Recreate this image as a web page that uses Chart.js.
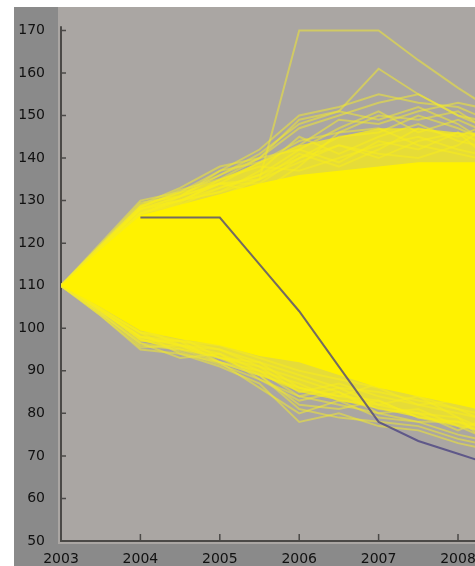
<!DOCTYPE html>
<html>
<head>
<meta charset="utf-8">
<script src="https://cdn.jsdelivr.net/npm/chart.js@4.4.1/dist/chart.umd.min.js"></script>
<style>
  html, body { margin: 0; padding: 0; background: #fff; }
  #wrap { position: relative; width: 475px; height: 566px; }
</style>
</head>
<body>
<div id="wrap"><canvas id="chart"></canvas></div>
<script>
// sample points along the time axis (years)
const years = [2003, 2003.5, 2004, 2004.5, 2005, 2005.5, 2006, 2006.5, 2007, 2007.5, 2008, 2008.25];
const xTicks = [2003, 2004, 2005, 2006, 2007, 2008];
const yTicks = [50, 60, 70, 80, 90, 100, 110, 120, 130, 140, 150, 160, 170];

// solid core of the simulation fan
const coreUpper = [110, 118.5, 126.5, 129, 131.5, 134, 136, 137, 138, 139, 139, 139];
const coreLower = [110, 105, 99.5, 97.5, 96, 93.5, 92, 89, 86, 84, 82, 81];
// denser band around the core
const denseUpper = [110, 119.5, 129, 132, 135, 139, 143, 145, 147, 147, 146, 146];
const denseLower = [110, 104, 97, 95, 93, 89, 85, 83, 81, 79, 77, 76];

// individual paths visible at the upper edge
const upperPaths = [
  [110, 120, 130, 132, 137, 142, 150, 152, 155, 153, 152, 150],
  [110, 119.5, 129, 133, 138, 140, 147, 150, 153, 155, 150, 149],
  [110, 119, 128, 130, 134, 139, 143, 149, 148, 151, 153, 152],
  [110, 118.5, 127, 129, 133, 136, 140, 145, 146, 150, 147, 145],
  [110, 119, 128.5, 132.5, 135, 140, 142, 147, 151, 146, 149, 147],
  [110, 118.5, 127.5, 130, 132, 137, 145, 141, 145, 148, 144, 143],
  [110, 118, 126.5, 128, 131, 135, 139, 143, 140, 144, 146, 142],
  [110, 119.5, 129.5, 131, 134, 132, 138, 146, 147, 143, 141, 140],
  [110, 118.5, 127, 129.5, 135, 138, 137, 140, 143, 145, 142, 141],
  [110, 119, 128, 130, 133, 136, 142, 139, 144, 142, 146, 144],
  [110, 118.5, 126.5, 131, 134, 134, 140, 143, 141, 140, 143, 146],
  [110, 119.5, 128.5, 132, 136, 141, 148, 151, 149, 152, 148, 145],
  [110, 119, 128, 131, 137, 139, 144, 146, 150, 149, 151, 148],
  [110, 118.5, 127, 130, 132, 135, 141, 138, 142, 147, 145, 147]
];
// the two high outliers
const outlierPaths = [
  [110, 118.5, 127, 130, 134, 135, 170, 170, 170, 163, 156.5, 153.5],
  [110, 119, 128, 131, 136, 140, 149, 151, 161, 155, 150, 148]
];
// individual paths visible at the lower edge
const lowerPaths = [
  [110, 103, 95, 94, 91, 87, 78, 80, 77, 76, 73, 72],
  [110, 103.5, 96.5, 95, 92, 86, 80, 83, 79, 78, 75, 74],
  [110, 104, 98, 96, 94, 90, 84, 82, 80, 81, 77, 76],
  [110, 104.5, 99, 94, 92, 89, 86, 84, 83, 79, 78, 77],
  [110, 104, 97, 97, 95, 91, 88, 85, 81, 80, 76, 78],
  [110, 104.5, 99, 98, 93, 91, 85, 87, 84, 82, 80, 79],
  [110, 103.5, 96, 95, 93, 89, 82, 81, 83, 79, 77, 75],
  [110, 105, 100, 96, 95, 92, 89, 86, 85, 83, 81, 80],
  [110, 104, 98, 97, 92, 90, 87, 83, 82, 84, 79, 77],
  [110, 104.5, 99, 97, 96, 93, 90, 88, 86, 82, 83, 81],
  [110, 103.5, 96.5, 93, 94, 88, 83, 85, 80, 78, 78, 76],
  [110, 104.5, 98, 96, 93, 92, 86, 84, 87, 84, 81, 79],
  [110, 103, 95.5, 96, 92, 89, 81, 79, 78, 77, 74, 73],
  [110, 104, 97.5, 94.5, 91.5, 88, 84, 86, 82, 80, 79, 75]
];
// the highlighted (historical) path
const actualPath = [110, 118, 126, 126, 126, 115, 104, 91, 78, 73.5, 70.5, 69];

const toPoints = vals => vals.map((v, i) => ({ x: years[i], y: v }));

const datasets = [];
// blue path on top
datasets.push({
  data: toPoints(actualPath), borderColor: 'rgba(70,62,128,0.75)', borderWidth: 2, order: 0,
  // first year is buried under the yellow fan
  segment: { borderColor: c => c.p1.parsed.x <= 2004 ? 'rgba(0,0,0,0)' : undefined }
});
// solid core
datasets.push({ data: toPoints(coreLower), borderWidth: 0, order: 2, fill: false });
datasets.push({ data: toPoints(coreUpper), borderWidth: 0, order: 2, fill: '-1', backgroundColor: '#fff200' });
// dense band
datasets.push({ data: toPoints(denseLower), borderWidth: 0, order: 3, fill: false });
datasets.push({ data: toPoints(denseUpper), borderWidth: 0, order: 3, fill: '-1', backgroundColor: 'rgba(250,238,20,0.75)' });
// single paths
[...upperPaths, ...outlierPaths, ...lowerPaths].forEach(p => {
  datasets.push({ data: toPoints(p), borderColor: 'rgba(240,232,50,0.55)', borderWidth: 2, order: 4 });
});

const panelPlugin = {
  id: 'panel',
  beforeDraw(chart) {
    const { ctx, chartArea: a } = chart;
    ctx.save();
    ctx.fillStyle = '#ffffff';
    ctx.fillRect(0, 0, chart.width, chart.height);
    ctx.fillStyle = '#8a8a8a';
    ctx.fillRect(14, a.top, chart.width - 14, chart.height - a.top);
    ctx.fillStyle = '#aaa6a3';
    ctx.fillRect(a.left - 3, a.top, chart.width - a.left + 3, a.bottom - a.top + 3);
    ctx.restore();
  },
  beforeDatasetsDraw(chart) {
    const { ctx, chartArea: a } = chart;
    const xs = chart.scales.x, ys = chart.scales.y;
    const x0 = xs.getPixelForValue(2003);
    const yb = ys.getPixelForValue(50);
    ctx.save();
    ctx.strokeStyle = '#4b4947';
    ctx.lineWidth = 2;
    ctx.beginPath();
    ctx.moveTo(x0, ys.getPixelForValue(171));
    ctx.lineTo(x0, yb);
    ctx.lineTo(a.right, yb);
    ctx.stroke();
    ctx.lineWidth = 1.5;
    ctx.beginPath();
    yTicks.forEach(v => {
      const py = ys.getPixelForValue(v);
      ctx.moveTo(x0, py);
      ctx.lineTo(x0 + 5, py);
    });
    xTicks.forEach(v => {
      const px = xs.getPixelForValue(v);
      ctx.moveTo(px, yb);
      ctx.lineTo(px, yb - 7);
    });
    ctx.stroke();
    ctx.restore();
  }
};

new Chart(document.getElementById('chart').getContext('2d'), {
  type: 'line',
  data: { datasets },
  options: {
    responsive: true,
    maintainAspectRatio: false,
    animation: false,
    layout: { padding: { top: 7, right: 0, left: 0, bottom: 0 } },
    elements: { point: { radius: 0 }, line: { tension: 0 } },
    plugins: { legend: { display: false }, tooltip: { enabled: false } },
    scales: {
      x: {
        type: 'linear',
        min: 2003,
        max: 2008.214,
        grid: { display: false },
        border: { display: false },
        afterBuildTicks: s => { s.ticks = xTicks.map(v => ({ value: v })); },
        afterFit: s => { s.height = 25; s.paddingLeft = 0; s.paddingRight = 0; },
        ticks: {
          padding: 2,
          color: '#111',
          font: { family: 'DejaVu Sans', size: 14 },
          maxRotation: 0,
          callback: v => String(v)
        }
      },
      y: {
        min: 50,
        max: 175.5,
        grid: { display: false },
        border: { display: false },
        afterBuildTicks: s => { s.ticks = yTicks.map(v => ({ value: v })); },
        afterFit: s => { s.width = 61; s.paddingTop = 0; s.paddingBottom = 0; },
        ticks: {
          padding: 8,
          color: '#111',
          font: { family: 'DejaVu Sans', size: 14 },
          callback: v => String(v)
        }
      }
    }
  },
  plugins: [panelPlugin]
});
</script>
</body>
</html>
